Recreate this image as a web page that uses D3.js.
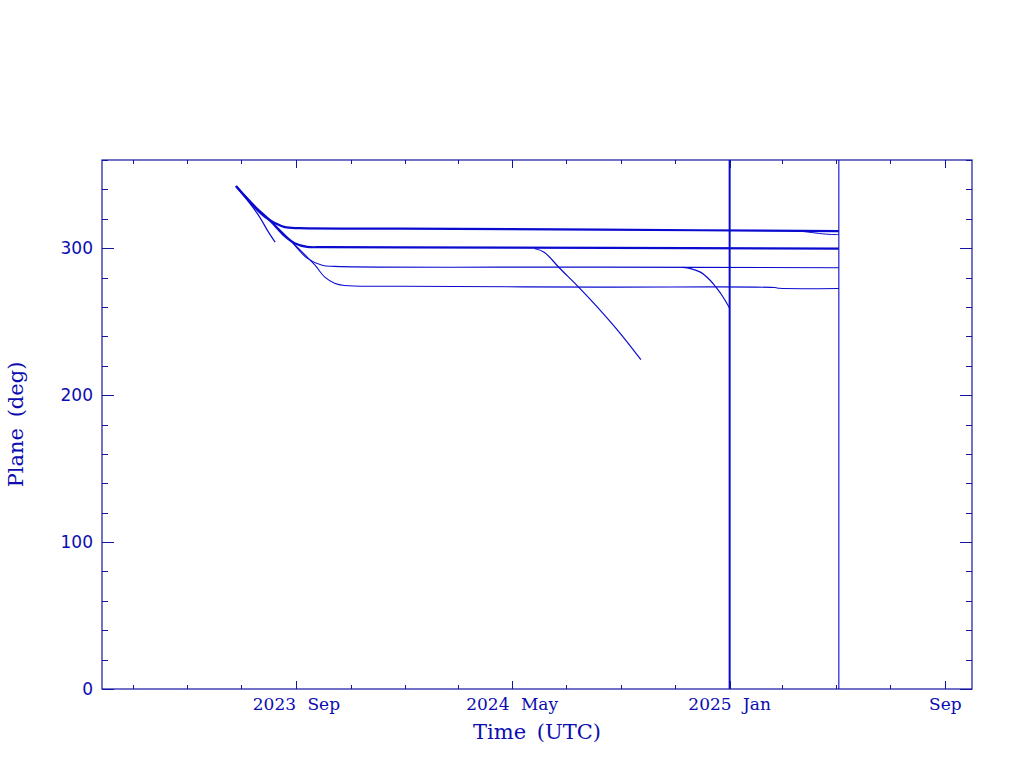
<!DOCTYPE html>
<html><head><meta charset="utf-8">
<script src="https://cdn.jsdelivr.net/npm/d3@7"></script>
<style>body{margin:0;background:#fff}svg{display:block}</style>
</head><body>
<script>
// ---- data ----
const timeDomain = ["2023-01-25", "2025-10-01"];
const planeDomain = [0, 360];
const majorTickDates = ["2023-09-01", "2024-05-01", "2025-01-01", "2025-09-01"];
const majorTickLabels = ["2023 Sep", "2024 May", "2025 Jan", "Sep"];
const yMajorTicks = [0, 100, 200, 300];
const yTickLabels = ["0", "100", "200", "300"];

const seriesA = [["2023-06-25",342.2],["2023-07-17",327.2],["2023-07-28",321.1],["2023-08-08",317.0],["2023-08-19",314.3],["2023-09-05",313.6],["2023-12-27",313.3],["2024-08-07",312.6],["2025-05-04",311.6]];
const seriesB = [["2025-03-10",311.8],["2025-03-27",311.2],["2025-04-12",310.0],["2025-04-26",309.3],["2025-05-04",309.3]];
const seriesC = [["2023-06-25",342.2],["2023-07-17",327.9],["2023-08-03",318.4],["2023-08-19",308.2],["2023-08-30",303.4],["2023-09-13",300.9],["2023-10-01",300.7],["2023-12-27",300.6],["2025-05-04",299.7]];
const seriesD = [["2023-06-25",342.2],["2023-07-17",327.9],["2023-08-03",318.4],["2023-08-25",305.4],["2023-09-13",293.2],["2023-09-30",288.4],["2023-10-14",287.6],["2024-08-07",287.1],["2025-05-04",286.7]];
const seriesE = [["2023-06-25",342.2],["2023-07-17",327.9],["2023-08-03",318.4],["2023-08-25",305.4],["2023-09-11",295.2],["2023-09-22",288.4],["2023-10-03",280.3],["2023-10-14",276.2],["2023-10-25",274.6],["2023-12-27",274.1],["2024-08-07",273.5],["2025-02-21",273.2],["2025-02-26",272.7],["2025-05-04",272.6]];
const seriesF = [["2023-06-25",342.2],["2023-07-20",322.7],["2023-07-31",311.4],["2023-08-08",304.1]];
const seriesG = [["2024-05-26",299.8],["2024-06-06",297.3],["2024-06-23",286.7],["2024-07-16",272.8],["2024-08-04",260.5],["2024-08-30",242.5],["2024-09-23",224.1]];
const seriesH = [["2024-11-09",286.9],["2024-11-18",286.1],["2024-11-29",283.7],["2024-12-10",278.2],["2024-12-17",273.1],["2024-12-24",267.3],["2025-01-01",259.2]];
const verticalDates = ["2025-01-01", "2025-05-04"];

// ---- layout ----
const W = 1024, H = 768;
const L = 102, R = 972, T = 160, B = 689;
const lineCol = "#0b0bd0", axisCol = "#1414a0", textCol = "#0c0cb0";

const svg = d3.select("body").append("svg").attr("width", W).attr("height", H);
const p = d3.utcParse("%Y-%m-%d");
const x = d3.scaleUtc().domain(timeDomain.map(p)).range([L, R]);
const y = d3.scaleLinear().domain(planeDomain).range([B, T]);

// data lines
const line = d3.line().x(d => x(p(d[0]))).y(d => y(d[1])).curve(d3.curveCatmullRom.alpha(0.5));
const styled = [
  [seriesA, 2.2], [seriesB, 1], [seriesC, 2.2], [seriesD, 1.1], [seriesE, 1.1],
  [seriesF, 1.2], [seriesG, 1.2], [seriesH, 1.2]
];
styled.forEach(([s, w]) => {
  svg.append("path").attr("d", line(s)).attr("fill", "none")
    .attr("stroke", lineCol).attr("stroke-width", w);
});
verticalDates.forEach((d, i) => {
  svg.append("line").attr("x1", x(p(d))).attr("x2", x(p(d)))
    .attr("y1", y(planeDomain[0])).attr("y2", y(planeDomain[1]))
    .attr("stroke", lineCol).attr("stroke-width", i === 0 ? 2 : 1.1);
});

// frame
svg.append("rect").attr("x", L).attr("y", T).attr("width", R - L).attr("height", B - T)
  .attr("fill", "none").attr("stroke", axisCol).attr("stroke-width", 1.2);

// x ticks
const months = d3.utcMonth.every(2).range(x.domain()[0], x.domain()[1]);
const majorSet = new Set(majorTickDates);
const fmt = d3.utcFormat("%Y-%m-%d");
months.forEach(m => {
  const isMaj = majorSet.has(fmt(m));
  const len = isMaj ? 8 : 4;
  const xx = Math.round(x(m)) + 0.5;
  svg.append("line").attr("x1", xx).attr("x2", xx).attr("y1", B).attr("y2", B - len).attr("stroke", axisCol);
  svg.append("line").attr("x1", xx).attr("x2", xx).attr("y1", T).attr("y2", T + len).attr("stroke", axisCol);
});
majorTickDates.forEach((d, i) => {
  svg.append("text").attr("x", x(p(d))).attr("y", 710).attr("text-anchor", "middle")
    .attr("font-family", "DejaVu Serif").attr("font-size", 17).attr("word-spacing", 6)
    .attr("fill", textCol).text(majorTickLabels[i]);
});

// y ticks
d3.range(0, 361, 20).forEach(v => {
  const isMaj = v % 100 === 0;
  const len = isMaj ? 12 : 6;
  const yy = Math.round(y(v)) + 0.5;
  svg.append("line").attr("x1", L).attr("x2", L + len).attr("y1", yy).attr("y2", yy).attr("stroke", axisCol);
  svg.append("line").attr("x1", R).attr("x2", R - len).attr("y1", yy).attr("y2", yy).attr("stroke", axisCol);
});
yMajorTicks.forEach((v, i) => {
  svg.append("text").attr("x", 93).attr("y", y(v) + 6).attr("text-anchor", "end")
    .attr("font-family", "DejaVu Sans").attr("font-size", 17)
    .attr("fill", textCol).text(yTickLabels[i]);
});

// axis titles
svg.append("text").attr("x", (L + R) / 2).attr("y", 739).attr("text-anchor", "middle")
  .attr("font-family", "DejaVu Serif").attr("font-size", 21).attr("word-spacing", 4)
  .attr("fill", textCol).text("Time (UTC)");
svg.append("text").attr("transform", `translate(23,${(T + B) / 2}) rotate(-90)`)
  .attr("text-anchor", "middle").attr("font-family", "DejaVu Serif").attr("font-size", 21)
  .attr("word-spacing", 4).attr("fill", textCol).text("Plane (deg)");
</script>
</body></html>
